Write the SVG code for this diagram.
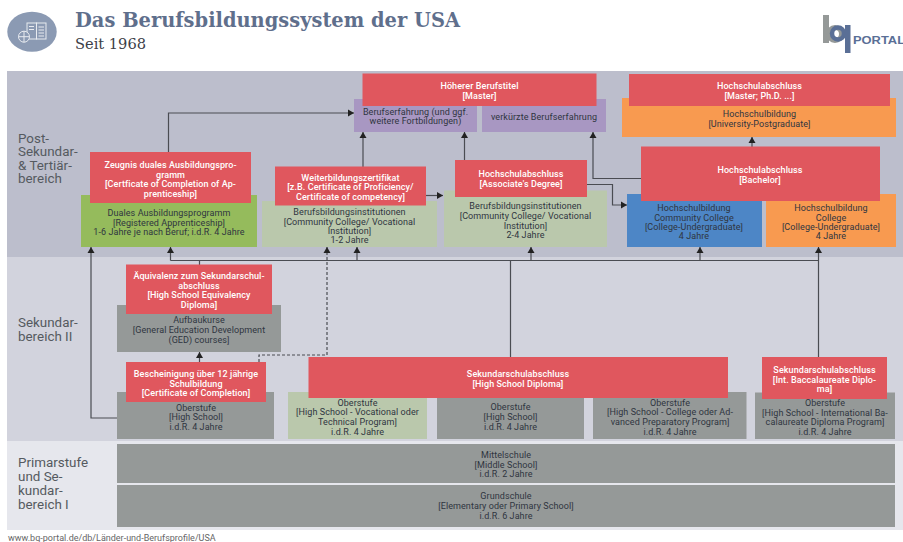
<svg xmlns="http://www.w3.org/2000/svg" width="903" height="542" viewBox="0 0 903 542">
<style>
text{font-family:Roboto,"Liberation Sans",sans-serif}
.t{font-size:9px;letter-spacing:.08px;text-anchor:middle;fill:#2f3540}
.w{font-size:9px;letter-spacing:.08px;text-anchor:middle;fill:#fff;font-weight:500}
.s{font-size:13.400px;fill:#555a60}
.c{fill:none;stroke:#4a4c52;stroke-width:1.200}
.r{fill:#e0575e}.g{fill:#959998}.l{fill:#bac8ac}.p{fill:#a897c2}.o{fill:#f89a50}
</style>
<defs><marker id="a" markerWidth="8" markerHeight="8" refX="7" refY="4" orient="auto" markerUnits="userSpaceOnUse"><path d="M1 0.500L7 4L1 7.500Z" fill="#222"/></marker></defs>
<rect width="903" height="542" fill="#fff"/>
<g id="header">
<ellipse cx="32" cy="31.700" rx="24.700" ry="20" fill="#8b9ab3"/>
<g fill="none" stroke="#e8ebf0" stroke-width="1"><rect x="27" y="23" width="9.500" height="16"/><rect x="36.500" y="23" width="9.500" height="16"/><path d="M38.500 27h5.500M38.500 30h5.500M38.500 33h5.500M38.500 36h5.500M29 26.500h5M29 29.500h5"/><circle cx="24" cy="36.700" r="5.500" fill="#8b9ab3"/><path d="M18.500 36.700h11M24 31.200v11"/></g>
<text x="75" y="27" font-size="19.500" font-weight="700" style="font-family:'DejaVu Serif',serif" fill="#5f6f8c" textLength="385" lengthAdjust="spacingAndGlyphs">Das Berufsbildungssystem der USA</text>
<text x="75" y="49" font-size="14" style="font-family:'DejaVu Serif',serif" fill="#3d4048" textLength="71" lengthAdjust="spacingAndGlyphs">Seit 1968</text>
<g id="logo"><rect x="823" y="15" width="6" height="28" fill="#959998"/><circle cx="835" cy="34" r="6.500" fill="none" stroke="#959998" stroke-width="5"/><circle cx="838" cy="33.500" r="6" fill="none" stroke="#5a6f96" stroke-width="4.500"/><rect x="845" y="25" width="5.500" height="28" fill="#5a6f96"/><text x="853" y="44" font-size="11.500" font-weight="700" fill="#5a6f96" textLength="52" lengthAdjust="spacingAndGlyphs" style="font-family:'Liberation Sans',sans-serif">PORTAL</text></g>
</g>
<g id="bands">
<rect x="7" y="71" width="896" height="186" fill="#bcbecc"/>
<rect x="7" y="257" width="896" height="184" fill="#d2d3dd"/>
<rect x="7" y="441" width="896" height="89" fill="#e6e7ed"/>
<text class="s"><tspan x="18" y="143">Post-</tspan><tspan x="18" y="156.300">Sekundar-</tspan><tspan x="18" y="169.600">&amp; Tertiär-</tspan><tspan x="18" y="183">bereich</tspan></text>
<text class="s"><tspan x="18" y="327">Sekundar-</tspan><tspan x="18" y="340.500">bereich II</tspan></text>
<text class="s"><tspan x="18" y="467">Primarstufe</tspan><tspan x="18" y="481">und Se-</tspan><tspan x="18" y="495">kundar-</tspan><tspan x="18" y="508.500">bereich I</tspan></text>
</g>
<g id="connectors">
<path class="c" d="M168.500 152V113H354" marker-end="url(#a)"/>
<path class="c" d="M363 167V132" marker-end="url(#a)"/>
<path class="c" d="M426 195.500H443" marker-end="url(#a)"/>
<path class="c" d="M464.500 160V132" marker-end="url(#a)"/>
<path class="c" d="M587 184.500H612.500V205H627" marker-end="url(#a)"/>
<path class="c" d="M641 178.500H593V132" marker-end="url(#a)"/>
<path class="c" d="M752 147V137" marker-end="url(#a)"/>
<path class="c" d="M170.500 260.500H818.500"/>
<path class="c" d="M170.500 260.500V247" marker-end="url(#a)"/>
<path class="c" d="M357 260.500V247" marker-end="url(#a)"/>
<path class="c" d="M531 260.500V247" marker-end="url(#a)"/>
<path class="c" d="M700 260.500V247" marker-end="url(#a)"/>
<path class="c" d="M818.500 357V247" marker-end="url(#a)"/>
<path class="c" d="M199.500 265V260.500"/>
<path class="c" d="M510.500 357V260.500"/>
<path class="c" d="M117 418H91V247" marker-end="url(#a)"/>
<path class="c" d="M199.500 362V352" marker-end="url(#a)"/>
<path class="c" stroke-dasharray="3 2" d="M259 362V355H327V247" marker-end="url(#a)"/>
</g>
<g id="n-dual"><rect x="81" y="195" width="176" height="52" fill="#95bb5c"/><text class="t"><tspan x="169" y="216">Duales Ausbildungsprogramm</tspan><tspan x="169" y="225.500">[Registered Apprenticeship]</tspan><tspan x="169" y="235">1-6 Jahre je nach Beruf; i.d.R. 4 Jahre</tspan></text></g>
<g id="n-zeugnis"><rect class="r" x="90" y="152" width="161" height="51"/><text class="w"><tspan x="170.500" y="168">Zeugnis duales Ausbildungspro-</tspan><tspan x="170.500" y="177.500">gramm</tspan><tspan x="170.500" y="187">[Certficate of Completion of Ap-</tspan><tspan x="170.500" y="196.500">prenticeship]</tspan></text></g>
<g id="n-beruf1"><rect class="l" x="262" y="201" width="175" height="46"/><text class="t"><tspan x="349.500" y="215">Berufsbildungsinstitutionen</tspan><tspan x="349.500" y="224.500">[Community College/ Vocational</tspan><tspan x="349.500" y="233.500">Institution]</tspan><tspan x="349.500" y="243">1-2 Jahre</tspan></text></g>
<g id="n-weiter"><rect class="r" x="275" y="166.500" width="151" height="39"/><text class="w"><tspan x="350.500" y="181">Weiterbildungszertifikat</tspan><tspan x="350.500" y="190">[z.B. Certificate of Proficiency/</tspan><tspan x="350.500" y="199.500">Certificate of competency]</tspan></text></g>
<g id="n-beruf2"><rect class="l" x="444" y="190.500" width="163" height="56.500"/><text class="t"><tspan x="525.500" y="209">Berufsbildungsinstitutionen</tspan><tspan x="525.500" y="219">[Community College/ Vocational</tspan><tspan x="525.500" y="228.500">Institution]</tspan><tspan x="525.500" y="238">2-4 Jahre</tspan></text></g>
<g id="n-assoc"><rect class="r" x="455" y="160" width="132" height="37"/><text class="w"><tspan x="521" y="177">Hochschulabschluss</tspan><tspan x="521" y="187">[Associate's Degree]</tspan></text></g>
<g id="n-purple1"><rect class="p" x="354" y="99" width="123" height="33"/><text class="t"><tspan x="415.500" y="115">Berufserfahrung (und ggf.</tspan><tspan x="415.500" y="124">weitere Fortbildungen)</tspan></text></g>
<g id="n-purple2"><rect class="p" x="482" y="99" width="124" height="33"/><text class="t" x="544" y="120">verkürzte Berufserfahrung</text></g>
<g id="n-master"><rect class="r" x="362.500" y="73.500" width="234" height="32.500"/><text class="w"><tspan x="479.500" y="89">Höherer Berufstitel</tspan><tspan x="479.500" y="99">[Master]</tspan></text></g>
<g id="n-univ"><rect class="o" x="622" y="98" width="274" height="39"/><text class="t"><tspan x="759.500" y="117">Hochschulbildung</tspan><tspan x="759.500" y="127">[University-Postgraduate]</tspan></text></g>
<g id="n-phd"><rect class="r" x="629" y="74" width="261" height="32"/><text class="w"><tspan x="759.500" y="89">Hochschulabschluss</tspan><tspan x="759.500" y="99">[Master; Ph.D. ...]</tspan></text></g>
<g id="n-blue"><rect x="627" y="194" width="135" height="53" fill="#4d86c6"/><text class="t"><tspan x="694" y="211">Hochschulbildung</tspan><tspan x="694" y="220.500">Community College</tspan><tspan x="694" y="230">[College-Undergraduate]</tspan><tspan x="694" y="239">4 Jahre</tspan></text></g>
<g id="n-college"><rect class="o" x="766" y="194" width="130" height="53"/><text class="t"><tspan x="831" y="211">Hochschulbildung</tspan><tspan x="831" y="220.500">College</tspan><tspan x="831" y="230">[College-Undergraduate]</tspan><tspan x="831" y="239">4 Jahre</tspan></text></g>
<g id="n-bachelor"><rect class="r" x="641" y="146.500" width="239" height="54.500"/><text class="w"><tspan x="760" y="173">Hochschulabschluss</tspan><tspan x="760" y="182.500">[Bachelor]</tspan></text></g>
<g id="n-ged"><rect class="g" x="117" y="305" width="164" height="47"/><text class="t"><tspan x="199" y="323">Aufbaukurse</tspan><tspan x="199" y="333">[General Education Development</tspan><tspan x="199" y="342.500">(GED) courses]</tspan></text></g>
<g id="n-aequiv"><rect class="r" x="126" y="264.500" width="146" height="49.500"/><text class="w"><tspan x="199" y="279">Äquivalenz zum Sekundarschul-</tspan><tspan x="199" y="288.500">abschluss</tspan><tspan x="199" y="298">[High School Equivalency</tspan><tspan x="199" y="307.500">Diploma]</tspan></text></g>
<g id="n-ober1"><rect class="g" x="117" y="392" width="157" height="47"/><text class="t"><tspan x="196" y="411">Oberstufe</tspan><tspan x="196" y="420">[High School]</tspan><tspan x="196" y="429.500">i.d.R. 4 Jahre</tspan></text></g>
<g id="n-besch"><rect class="r" x="126" y="362" width="140" height="40"/><text class="w"><tspan x="196" y="377">Bescheinigung über 12 jährige</tspan><tspan x="196" y="387">Schulbildung</tspan><tspan x="196" y="396">[Certificate of Completion]</tspan></text></g>
<g id="n-ober2"><rect class="l" x="288" y="392" width="139" height="47"/><text class="t"><tspan x="357.500" y="406">Oberstufe</tspan><tspan x="357.500" y="415">[High School - Vocational oder</tspan><tspan x="357.500" y="424.500">Technical Program]</tspan><tspan x="357.500" y="434.500">i.d.R. 4 Jahre</tspan></text></g>
<g id="n-ober3"><rect class="g" x="437" y="392" width="147" height="47"/><text class="t"><tspan x="510.500" y="410">Oberstufe</tspan><tspan x="510.500" y="420">[High School]</tspan><tspan x="510.500" y="430">i.d.R. 4 Jahre</tspan></text></g>
<g id="n-ober4"><rect class="g" x="593" y="392" width="153.500" height="47"/><text class="t"><tspan x="670" y="406">Oberstufe</tspan><tspan x="670" y="415">[High School - College oder Ad-</tspan><tspan x="670" y="425">vanced Preparatory Program]</tspan><tspan x="670" y="434.500">i.d.R. 4 Jahre</tspan></text></g>
<g id="n-hsd"><rect class="r" x="308.500" y="357" width="419.500" height="41"/><text class="w"><tspan x="518" y="377">Sekundarschulabschluss</tspan><tspan x="518" y="386.500">[High School Diploma]</tspan></text></g>
<g id="n-ober5"><rect class="g" x="755" y="392.500" width="140" height="46.500"/><text class="t"><tspan x="825" y="406">Oberstufe</tspan><tspan x="825" y="415.500">[High School - International Ba-</tspan><tspan x="825" y="425">calaureate Diploma Program]</tspan><tspan x="825" y="435">i.d.R. 4 Jahre</tspan></text></g>
<g id="n-ib"><rect class="r" x="762" y="357" width="125" height="42"/><text class="w"><tspan x="824.500" y="373">Sekundarschulabschluss</tspan><tspan x="824.500" y="382.500">[Int. Baccalaureate Diplo-</tspan><tspan x="824.500" y="392">ma]</tspan></text></g>
<g id="n-mittel"><rect class="g" x="117" y="444" width="778" height="39"/><text class="t"><tspan x="506" y="458">Mittelschule</tspan><tspan x="506" y="467.500">[Middle School]</tspan><tspan x="506" y="477">i.d.R. 2 Jahre</tspan></text></g>
<g id="n-grund"><rect class="g" x="117" y="485" width="778" height="42"/><text class="t"><tspan x="506" y="499">Grundschule</tspan><tspan x="506" y="509">[Elementary oder Primary School]</tspan><tspan x="506" y="519">i.d.R. 6 Jahre</tspan></text></g>
<text x="8" y="541" font-size="9" fill="#666">www.bq-portal.de/db/Länder-und-Berufsprofile/USA</text>
</svg>
